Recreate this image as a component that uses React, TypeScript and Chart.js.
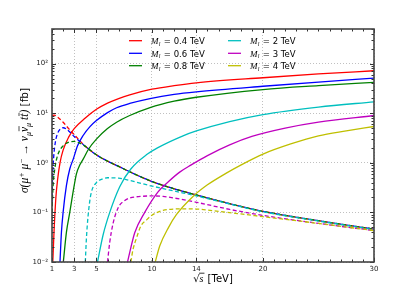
import React, { useEffect, useRef } from "react";
import { Chart, registerables } from "chart.js";
Chart.register(...registerables);

const xTicks = [1, 3, 5, 10, 14, 20, 30];
const yTicks = [0.01, 0.1, 1, 10, 100];
const yTickLabels = ["10⁻²", "10⁻¹", "10⁰", "10¹", "10²"];
const massLabels = ["0.4", "0.6", "0.8", "2", "3", "4"];
const colors = ["#ff0000", "#0000ff", "#008000", "#00bfbf", "#bf00bf", "#bfbf00"];

// M = 0.4 TeV
const s04Solid = [1.07, 1.2, 1.35, 1.5, 1.72, 2, 2.5, 3, 4, 5, 6, 7, 8, 10, 12, 14, 20, 25, 30];
const v04Solid = [0.01, 0.05, 0.2, 0.45, 1.0, 1.8, 3.3, 4.9, 8, 12, 16, 19.8, 23.5, 30.5, 36, 41, 52, 62, 72];
const s04Dash = [1, 1.2, 1.5, 2, 2.5, 3, 3.5, 4, 5, 6, 7, 8, 10, 12, 14, 17, 20, 25, 30];
const v04Dash = [9, 9.2, 8.4, 6.6, 4.9, 3.7, 2.8, 2.15, 1.45, 1.08, 0.85, 0.66, 0.42, 0.3, 0.225, 0.15, 0.105, 0.068, 0.046];
// M = 0.6 TeV
const s06Solid = [1.72, 1.85, 2, 2.3, 2.6, 2.92, 3.3, 3.82, 4.4, 5, 6, 6.82, 8, 9.83, 12, 14, 20, 25, 30];
const v06Solid = [0.01, 0.04, 0.1, 0.35, 0.75, 1.2, 2.2, 3.6, 5.3, 7.1, 10.3, 12.9, 15.8, 19.8, 24, 27, 35, 42.5, 51];
const s06Dash = [1, 1.05, 1.15, 1.3, 1.5, 1.8, 2, 2.3, 2.6, 3, 3.5, 4, 5, 6, 7, 8, 10, 12, 14, 17, 20, 25, 30];
const v06Dash = [0.15, 0.5, 1.3, 2.6, 3.9, 4.9, 5.1, 4.8, 4.2, 3.4, 2.7, 2.15, 1.45, 1.08, 0.85, 0.66, 0.42, 0.3, 0.225, 0.15, 0.105, 0.068, 0.046];
// M = 0.8 TeV
const s08Solid = [2.02, 2.3, 2.6, 3, 3.2, 3.5, 3.82, 4.3, 5, 6, 6.82, 8, 9.83, 12, 14, 20, 25, 30];
const v08Solid = [0.01, 0.04, 0.1, 0.35, 0.6, 0.9, 1.2, 1.9, 3.0, 4.9, 6.6, 9, 13, 17.5, 21, 30, 36, 42];
const s08Dash = [1, 1.1, 1.25, 1.5, 2, 2.5, 3, 3.5, 4, 5, 6, 7, 8, 10, 12, 14, 17, 20, 25, 30];
const v08Dash = [0.1, 0.35, 0.75, 1.4, 2.2, 2.6, 2.7, 2.5, 2.15, 1.45, 1.08, 0.85, 0.66, 0.42, 0.3, 0.225, 0.15, 0.105, 0.068, 0.046];
// M = 2 TeV
const s2Solid = [5.1, 5.6, 6.2, 7.1, 8.1, 9.6, 10.5, 12.8, 14, 17, 20, 25, 30];
const v2Solid = [0.01, 0.035, 0.1, 0.33, 0.75, 1.5, 2, 3.5, 4.4, 6.8, 9.4, 13.3, 17];
const s2Dash = [4, 4.1, 4.25, 4.5, 5, 5.5, 6, 7, 8, 10, 12, 14, 17, 20, 25, 30];
const v2Dash = [0.01, 0.03, 0.085, 0.23, 0.4, 0.47, 0.5, 0.49, 0.44, 0.34, 0.27, 0.215, 0.148, 0.103, 0.067, 0.045];
// M = 3 TeV
const s3Solid = [7.8, 8.45, 9.35, 10.55, 11.5, 12.5, 13.5, 15, 17, 19, 22, 25, 30];
const v3Solid = [0.01, 0.039, 0.1, 0.26, 0.42, 0.65, 0.9, 1.4, 2.3, 3.4, 5, 6.6, 9];
const s3Dash = [6, 6.2, 6.5, 7, 7.5, 8, 9, 10, 11, 12, 14, 17, 20, 25, 30];
const v3Dash = [0.01, 0.025, 0.06, 0.13, 0.17, 0.195, 0.21, 0.215, 0.21, 0.195, 0.16, 0.115, 0.087, 0.06, 0.043];
// M = 4 TeV
const s4Solid = [10.3, 10.7, 11.5, 12.2, 13.7, 15, 16.7, 18, 20, 22.5, 25, 27.5, 30];
const v4Solid = [0.01, 0.021, 0.05, 0.09, 0.21, 0.36, 0.62, 0.9, 1.5, 2.4, 3.5, 4.4, 5.4];
const s4Dash = [8.1, 8.3, 8.6, 9, 9.5, 10, 11, 12, 13, 14, 16, 18, 20, 25, 30];
const v4Dash = [0.01, 0.018, 0.03, 0.053, 0.07, 0.088, 0.11, 0.117, 0.118, 0.117, 0.105, 0.093, 0.082, 0.06, 0.043];

const solidS = [s04Solid, s06Solid, s08Solid, s2Solid, s3Solid, s4Solid];
const solidV = [v04Solid, v06Solid, v08Solid, v2Solid, v3Solid, v4Solid];
const dashS = [s04Dash, s06Dash, s08Dash, s2Dash, s3Dash, s4Dash];
const dashV = [v04Dash, v06Dash, v08Dash, v2Dash, v3Dash, v4Dash];

const zip = (xs: number[], ys: number[]) => xs.map((x, i) => ({ x, y: ys[i] }));

const decorPlugin = {
  id: "decor",
  afterDraw(chart: any) {
    const { ctx, chartArea: a, scales } = chart;
    const xs = scales.x;
    const ys = scales.y;
    ctx.save();
    // ticks
    ctx.strokeStyle = "#333";
    ctx.lineWidth = 1;
    ctx.beginPath();
    for (let v = 1; v <= 30; v++) {
      const px = Math.round(xs.getPixelForValue(v)) + 0.5;
      const len = xTicks.includes(v) ? 4 : 2.5;
      ctx.moveTo(px, a.bottom); ctx.lineTo(px, a.bottom - len);
      ctx.moveTo(px, a.top); ctx.lineTo(px, a.top + len);
    }
    for (let d = -2; d <= 2; d++) {
      for (let k = 1; k <= 9; k++) {
        const v = k * Math.pow(10, d);
        if (v > 500) continue;
        const py = Math.round(ys.getPixelForValue(v)) + 0.5;
        const len = k === 1 ? 4 : 2.5;
        ctx.moveTo(a.left, py); ctx.lineTo(a.left + len, py);
        ctx.moveTo(a.right, py); ctx.lineTo(a.right - len, py);
      }
    }
    ctx.stroke();
    // frame
    ctx.strokeStyle = "#444";
    ctx.lineWidth = 1.6;
    ctx.strokeRect(a.left, a.top, a.right - a.left, a.bottom - a.top);

    // legend
    const rowsY = [40.7, 53.3, 65.7];
    for (let i = 0; i < 6; i++) {
      const col = i < 3 ? 0 : 1;
      const y = rowsY[i % 3];
      const x0 = col === 0 ? 129 : 228;
      ctx.strokeStyle = colors[i];
      ctx.lineWidth = 1.3;
      ctx.beginPath();
      ctx.moveTo(x0, y); ctx.lineTo(x0 + 13, y);
      ctx.stroke();
      let tx = x0 + 22;
      ctx.fillStyle = "#000";
      ctx.textBaseline = "alphabetic";
      ctx.font = "italic 9px 'Liberation Serif'";
      ctx.fillText("M", tx, y + 3.2);
      tx += ctx.measureText("M").width;
      ctx.font = "italic 6px 'Liberation Serif'";
      ctx.fillText("l", tx + 0.3, y + 5);
      tx += ctx.measureText("l").width + 1;
      ctx.font = "8.5px 'DejaVu Sans'";
      ctx.fillText(" = " + massLabels[i] + " TeV", tx, y + 3.2);
    }

    // x title
    ctx.fillStyle = "#000";
    const xcx = (a.left + a.right) / 2;
    ctx.font = "10px 'DejaVu Sans'";
    const wRad = ctx.measureText("√").width;
    ctx.font = "italic 10px 'Liberation Serif'";
    const wS = ctx.measureText("s").width;
    ctx.font = "10px 'DejaVu Sans'";
    const wT = ctx.measureText(" [TeV]").width;
    let cx = xcx - (wRad + wS + 1 + wT) / 2;
    ctx.font = "10px 'DejaVu Sans'";
    ctx.fillText("√", cx, 282);
    cx += wRad;
    ctx.font = "italic 10px 'Liberation Serif'";
    ctx.fillText("s", cx, 282);
    ctx.strokeStyle = "#000";
    ctx.lineWidth = 0.8;
    ctx.beginPath();
    ctx.moveTo(cx - 0.5, 273.2); ctx.lineTo(cx + wS + 1, 273.2);
    ctx.stroke();
    cx += wS + 1;
    ctx.font = "10px 'DejaVu Sans'";
    ctx.fillText(" [TeV]", cx, 282);

    // y title (rotated)
    type Seg = [string, string, number, boolean];
    const M = "italic 11.5px 'Liberation Serif'";
    const MS = "italic 8px 'Liberation Serif'";
    const segY: Seg[] = [
      [M, "σ(μ", 0, false], [MS, "+", -4.5, false], [M, " μ", 0, false], [MS, "−", -4.5, false],
      [M, " → ν", 0, false], [MS, "μ", 2.5, false],
      [M, "ν", 0, true], [MS, "μ", 2.5, false], [M, " t", 0, false], [M, "t", 0, true], [M, ")", 0, false],
      ["10.5px 'DejaVu Sans'", " [fb]", 0, false],
    ];
    let wY = 0;
    for (const [f, t] of segY) { ctx.font = f; wY += ctx.measureText(t).width; }
    ctx.translate(28, (a.top + a.bottom) / 2 - 5);
    ctx.rotate(-Math.PI / 2);
    let yx = -wY / 2;
    ctx.lineWidth = 0.7;
    for (const [f, t, dy, bar] of segY) {
      ctx.font = f;
      ctx.fillText(t, yx, dy);
      const w = ctx.measureText(t).width;
      if (bar) {
        ctx.beginPath();
        ctx.moveTo(yx + 0.8, -9); ctx.lineTo(yx + w + 0.8, -9);
        ctx.stroke();
      }
      yx += w;
    }
    ctx.restore();
  },
};

export default function App() {
  const ref = useRef<HTMLCanvasElement>(null);
  useEffect(() => {
    const datasets: any[] = [];
    let n = 0;
    for (let i = 0; i < 6; i++) {
      datasets.push({
        label: "M=" + massLabels[i] + " solid",
        data: zip(solidS[i], solidV[i]),
        borderColor: colors[i], borderWidth: 1.3, pointRadius: 0, fill: false,
        cubicInterpolationMode: "monotone", order: 100 - n++,
      });
      datasets.push({
        label: "M=" + massLabels[i] + " dashed",
        data: zip(dashS[i], dashV[i]),
        borderColor: colors[i], borderWidth: 1.3, borderDash: [4, 2.5], pointRadius: 0, fill: false,
        cubicInterpolationMode: "monotone", order: 100 - n++,
      });
    }
    const chart = new Chart(ref.current!, {
      type: "line",
      data: { datasets },
      plugins: [decorPlugin],
      options: {
        animation: false,
        responsive: false,
        layout: { padding: { left: 0, right: 41, top: 29, bottom: 0 } },
        plugins: { legend: { display: false }, tooltip: { enabled: false } },
        scales: {
          x: {
            type: "linear", min: 1, max: 30,
            afterBuildTicks: (s: any) => { s.ticks = xTicks.map((v) => ({ value: v })); },
            afterFit: (s: any) => { s.height = 29; },
            grid: { color: "#b0b0b0", lineWidth: 0.8, drawTicks: false },
            border: { display: false, dash: [1, 2] },
            ticks: { padding: 3, color: "#222", font: { size: 7, family: "'DejaVu Sans'" }, maxRotation: 0, autoSkip: false, callback: (v: any) => String(v) },
          },
          y: {
            type: "logarithmic", min: 0.01, max: 500,
            afterBuildTicks: (s: any) => { s.ticks = yTicks.map((v) => ({ value: v })); },
            afterFit: (s: any) => { s.width = 52; },
            grid: { color: "#b0b0b0", lineWidth: 0.8, drawTicks: false },
            border: { display: false, dash: [1, 2] },
            ticks: {
              padding: 4, color: "#222", font: { size: 7, family: "'DejaVu Sans'" }, autoSkip: false,
              callback: (v: any) => yTickLabels[Math.round(Math.log10(v)) + 2],
            },
          },
        },
      } as any,
    });
    return () => chart.destroy();
  }, []);
  return (
    <div style={{ position: "fixed", left: 0, top: 0, width: 415, height: 291, background: "#fff" }}>
      <canvas ref={ref} width={415} height={291} style={{ display: "block" }} />
    </div>
  );
}
